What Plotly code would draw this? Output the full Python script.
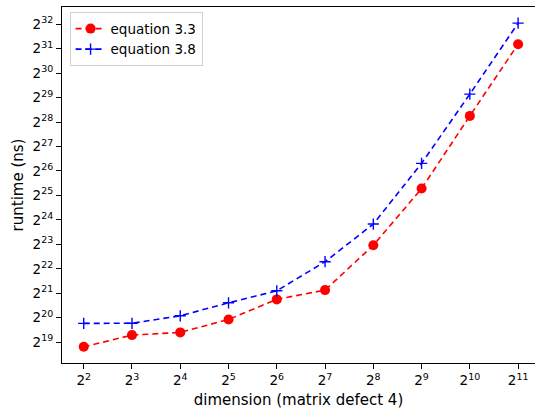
import math
import plotly.graph_objects as go

dimension = [4, 8, 16, 32, 64, 128, 256, 512, 1024, 2048]
eq33_ns = [460000, 641000, 692000, 999000, 1763500, 2295000, 8159000,
           40742000, 319220000, 2432900000]
eq38_ns = [894100, 896000, 1108300, 1600400, 2247700, 5128000, 14912000,
           83196000, 591590000, 4415600000]
x_exps = list(range(2, 12))
y_exps = list(range(19, 33))

L2 = math.log10(2)
fig = go.Figure()
fig.add_trace(go.Scatter(
    x=dimension, y=eq33_ns, name="equation 3.3", mode="lines+markers",
    line=dict(color="#ff0000", width=1.6, dash="6px,4px"),
    marker=dict(symbol="circle", size=10, color="#ff0000"),
))
fig.add_trace(go.Scatter(
    x=dimension, y=eq38_ns, name="equation 3.8", mode="lines+markers",
    line=dict(color="#0000ff", width=1.6, dash="6px,4px"),
    marker=dict(symbol="cross-thin", size=8, color="#0000ff",
                line=dict(color="#0000ff", width=1.4)),
))

font = "DejaVu Sans, sans-serif"
fig.update_layout(
    width=535, height=411,
    margin=dict(l=62, r=0, t=7, b=48),
    paper_bgcolor="white", plot_bgcolor="white",
    font=dict(family=font, color="#000000", size=12),
    showlegend=True,
    legend=dict(x=0.016, y=0.985, xanchor="left", yanchor="top",
                bgcolor="rgba(255,255,255,0.8)", bordercolor="#d0d0d0",
                borderwidth=1, font=dict(size=13.5, family=font),
                tracegroupgap=0, itemwidth=30),
    xaxis=dict(
        type="log", range=[1.55 * L2, 11.35 * L2], automargin=False,
        tickvals=[2 ** k for k in x_exps],
        ticktext=[f"2<sup>{k}</sup>" for k in x_exps],
        ticks="outside", ticklen=5, tickwidth=1, tickcolor="#000",
        showline=True, linecolor="#000", linewidth=1.2, mirror=True,
        showgrid=False, zeroline=False,
        tickfont=dict(size=13.5, family=font),
        title=dict(text="dimension (matrix defect 4)", font=dict(size=15, family=font), standoff=7),
    ),
    yaxis=dict(
        type="log", range=[18.15 * L2, 32.70 * L2], automargin=False,
        tickvals=[2 ** k for k in y_exps],
        ticktext=[f"2<sup>{k}</sup>" for k in y_exps],
        ticks="outside", ticklen=5, tickwidth=1, tickcolor="#000",
        showline=True, linecolor="#000", linewidth=1.2,
        showgrid=False, zeroline=False,
        tickfont=dict(size=13.5, family=font),
        title=dict(text="runtime (ns)", font=dict(size=15, family=font), standoff=5),
    ),
)
fig.write_html("out.html", config={"displayModeBar": False},
               post_script="document.body.style.margin='0';document.body.style.overflow='hidden';")
